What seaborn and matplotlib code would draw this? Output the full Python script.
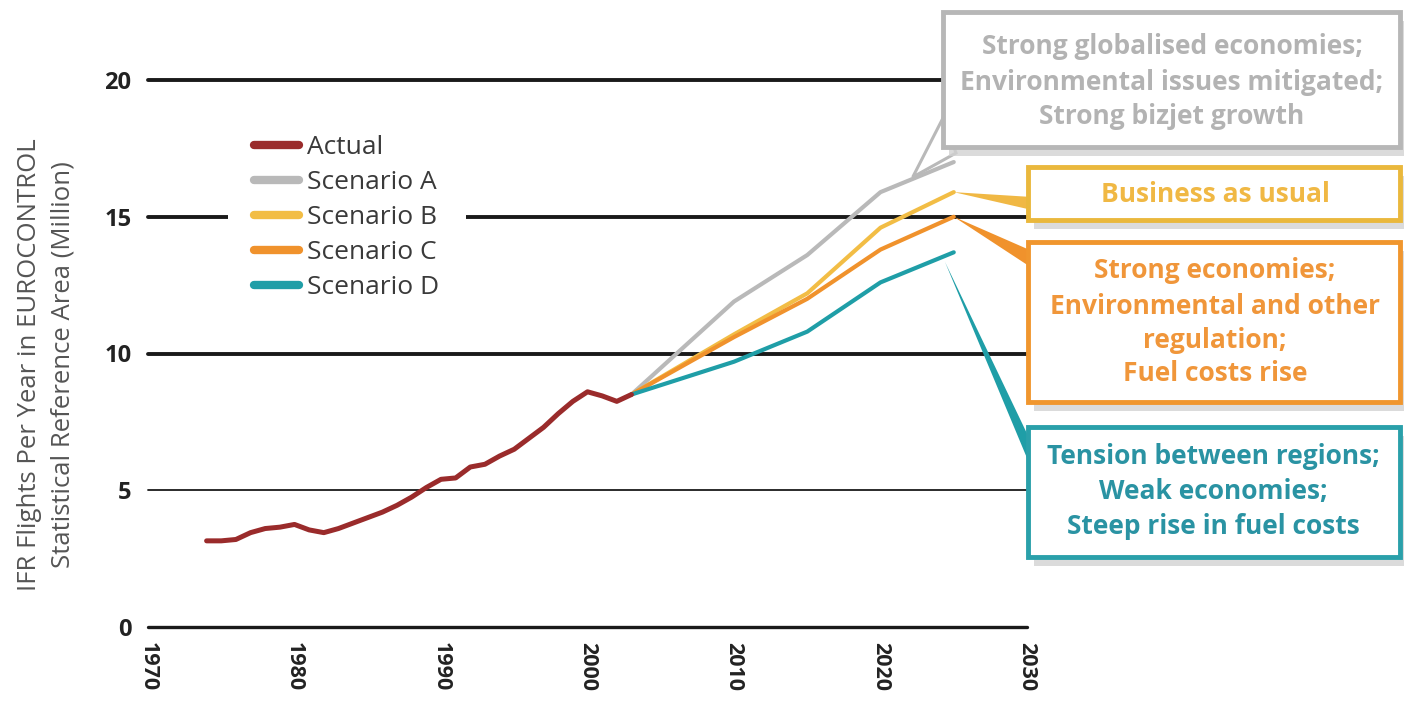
import numpy as np
import pandas as pd
import matplotlib.pyplot as plt
import seaborn as sns
from matplotlib.lines import Line2D
from matplotlib.patches import Rectangle, Polygon

# Data (million IFR flights per year)
actual_years = [1974, 1975, 1976, 1977, 1978, 1979, 1980, 1981, 1982, 1983, 1984, 1985,
                1986, 1987, 1988, 1989, 1990, 1991, 1992, 1993, 1994, 1995, 1996, 1997,
                1998, 1999, 2000, 2001, 2002, 2003]
actual_values = [3.15, 3.15, 3.2, 3.45, 3.6, 3.65, 3.75, 3.55, 3.45, 3.6, 3.8, 4.0,
                 4.2, 4.45, 4.75, 5.1, 5.4, 5.45, 5.85, 5.95, 6.25, 6.5, 6.9, 7.3,
                 7.8, 8.25, 8.6, 8.45, 8.25, 8.5]

scenario_years = [2003, 2010, 2015, 2020, 2025]
scenario_a = [8.5, 11.9, 13.6, 15.9, 17.0]
scenario_b = [8.5, 10.7, 12.2, 14.6, 15.9]
scenario_c = [8.5, 10.6, 12.0, 13.8, 15.0]
scenario_d = [8.5, 9.7, 10.8, 12.6, 13.7]

series_names = ["Actual", "Scenario A", "Scenario B", "Scenario C", "Scenario D"]
colors = {"Actual": "#9a2b2b", "Scenario A": "#b9b9b9", "Scenario B": "#f2bd45",
          "Scenario C": "#f0922c", "Scenario D": "#1f9ea7"}

x_ticks = [1970, 1980, 1990, 2000, 2010, 2020, 2030]
y_ticks = [0, 5, 10, 15, 20]

# long form table for seaborn
frames = [pd.DataFrame({"year": actual_years, "value": actual_values, "series": "Actual"})]
for name, vals in zip(series_names[1:], [scenario_a, scenario_b, scenario_c, scenario_d]):
    frames.append(pd.DataFrame({"year": scenario_years, "value": vals, "series": name}))
df = pd.concat(frames, ignore_index=True)

sns.set_style("white")
plt.rcParams["font.family"] = ["Open Sans", "DejaVu Sans"]

W, H = 1404, 702
fig = plt.figure(figsize=(W / 100, H / 100), dpi=100)

# pixel helpers (top-left origin) -> figure fraction
def fx(x):
    return x / W

def fy(y):
    return 1 - y / H

ax = fig.add_axes([fx(148), fy(627), (1027 - 148) / W, (627 - 80) / H])
ax.set_xlim(1970, 2030)
ax.set_ylim(0, 20)
sns.despine(ax=ax, left=True, bottom=True)

# horizontal reference lines
grid_lw = {0: 2.4, 5: 1.3, 10: 2.8, 15: 2.8, 20: 2.8}
for lvl in y_ticks:
    ax.axhline(lvl, color="#1a1a1a", lw=grid_lw[lvl], zorder=1, clip_on=False)

# draw scenario lines first, actual on top
for name in series_names[1:] + ["Actual"]:
    sub = df[df["series"] == name]
    sns.lineplot(data=sub, x="year", y="value", color=colors[name],
                 linewidth=3.6 if name == "Actual" else 3.0, ax=ax, sort=False,
                 zorder=3 if name == "Actual" else 2)

ax.set_xlabel("")
ax.set_ylabel("")
ax.set_xticks(x_ticks)
ax.set_xticklabels([str(t) for t in x_ticks], rotation=-90, fontweight="bold",
                   fontsize=15.5, color="#222222")
ax.set_yticks(y_ticks)
ax.set_yticklabels([str(t) for t in y_ticks], fontweight="bold", fontsize=17,
                   color="#222222")
ax.tick_params(axis="x", length=0, pad=11)
ax.tick_params(axis="y", length=0, pad=12)

# legend
handles = [Line2D([0], [0], color=colors[n], lw=6) for n in series_names]
leg = ax.legend(handles, series_names, loc="upper left",
                bbox_to_anchor=(fx(228), fy(109)), bbox_transform=fig.transFigure,
                fontsize=19, frameon=True, facecolor="white", edgecolor="none",
                framealpha=1, borderpad=1.0, borderaxespad=0, handlelength=1.7,
                handletextpad=0.3, labelspacing=0.38)
for t in leg.get_texts():
    t.set_color("#3a3a3a")
leg.set_zorder(4)

# y axis title
fig.text(fx(30), fy(365), "IFR Flights Per Year in EUROCONTROL", rotation=90,
         ha="center", va="center", fontsize=18.5, color="#555555")
fig.text(fx(63), fy(365), "Statistical Reference Area (Million)", rotation=90,
         ha="center", va="center", fontsize=18.5, color="#555555")

# callout boxes: (left, top, right, bottom) in pixels, colour, lines of text, line y
boxes = [
    ((943, 12, 1400, 147), "#b7b7b7", "#b3b3b3",
     ["Strong globalised economies;", "Environmental issues mitigated;", "Strong bizjet growth"],
     [46, 82, 117], 1172),
    ((1028, 167, 1400, 220), "#eab83c", "#f0b844", ["Business as usual"], [194], 1215),
    ((1028, 242, 1400, 402), "#f0962e", "#f0963a",
     ["Strong economies;", "Environmental and other", "regulation;", "Fuel costs rise"],
     [271, 306, 340, 374], 1215),
    ((1028, 427, 1400, 557), "#2aa0aa", "#2a93a3",
     ["Tension between regions;", "Weak economies;", "Steep rise in fuel costs"],
     [456, 492, 527], 1213),
]
for (x0, y0, x1, y1), edge, tcol, lines, ys, cx in boxes:
    shadow = Rectangle((fx(x0 + 6), fy(y1 + 9)), (x1 - x0) / W, (y1 - y0) / H,
                       transform=fig.transFigure, facecolor="#d2d2d2", edgecolor="none",
                       alpha=0.8, zorder=4)
    fig.add_artist(shadow)
    box = Rectangle((fx(x0), fy(y1)), (x1 - x0) / W, (y1 - y0) / H,
                    transform=fig.transFigure, facecolor="white", edgecolor=edge,
                    lw=3.5, zorder=5)
    fig.add_artist(box)
    for line, ly in zip(lines, ys):
        fig.text(fx(cx), fy(ly), line, ha="center", va="center", fontsize=19,
                 fontweight="bold", color=tcol, zorder=6)

# callout wedges: tip in data coords, base in pixels
def to_fig(pt):
    disp = ax.transData.transform(pt)
    return fig.transFigure.inverted().transform(disp)

wedges = [
    ((2022.2, 16.45), [(943, 118), (956, 153)], "white", "#b9b9b9", 2.2),
    ((scenario_years[-1], scenario_b[-1]), [(1032, 197), (1032, 210)], "#f0b844", "none", 0),
    ((scenario_years[-1], scenario_c[-1]), [(1032, 251), (1032, 268)], "#f0922c", "none", 0),
    ((2024.4, 13.35), [(1032, 444), (1032, 470)], "#1f9ea7", "none", 0),
]
for tip, base, fc, ec, lw in wedges:
    pts = [to_fig(tip)] + [(fx(bx), fy(by)) for bx, by in base]
    poly = Polygon(pts, closed=True, transform=fig.transFigure, facecolor=fc,
                   edgecolor=ec, lw=lw, zorder=1.5, clip_on=False)
    ax.add_patch(poly)

fig.savefig("out.png", dpi=100)
